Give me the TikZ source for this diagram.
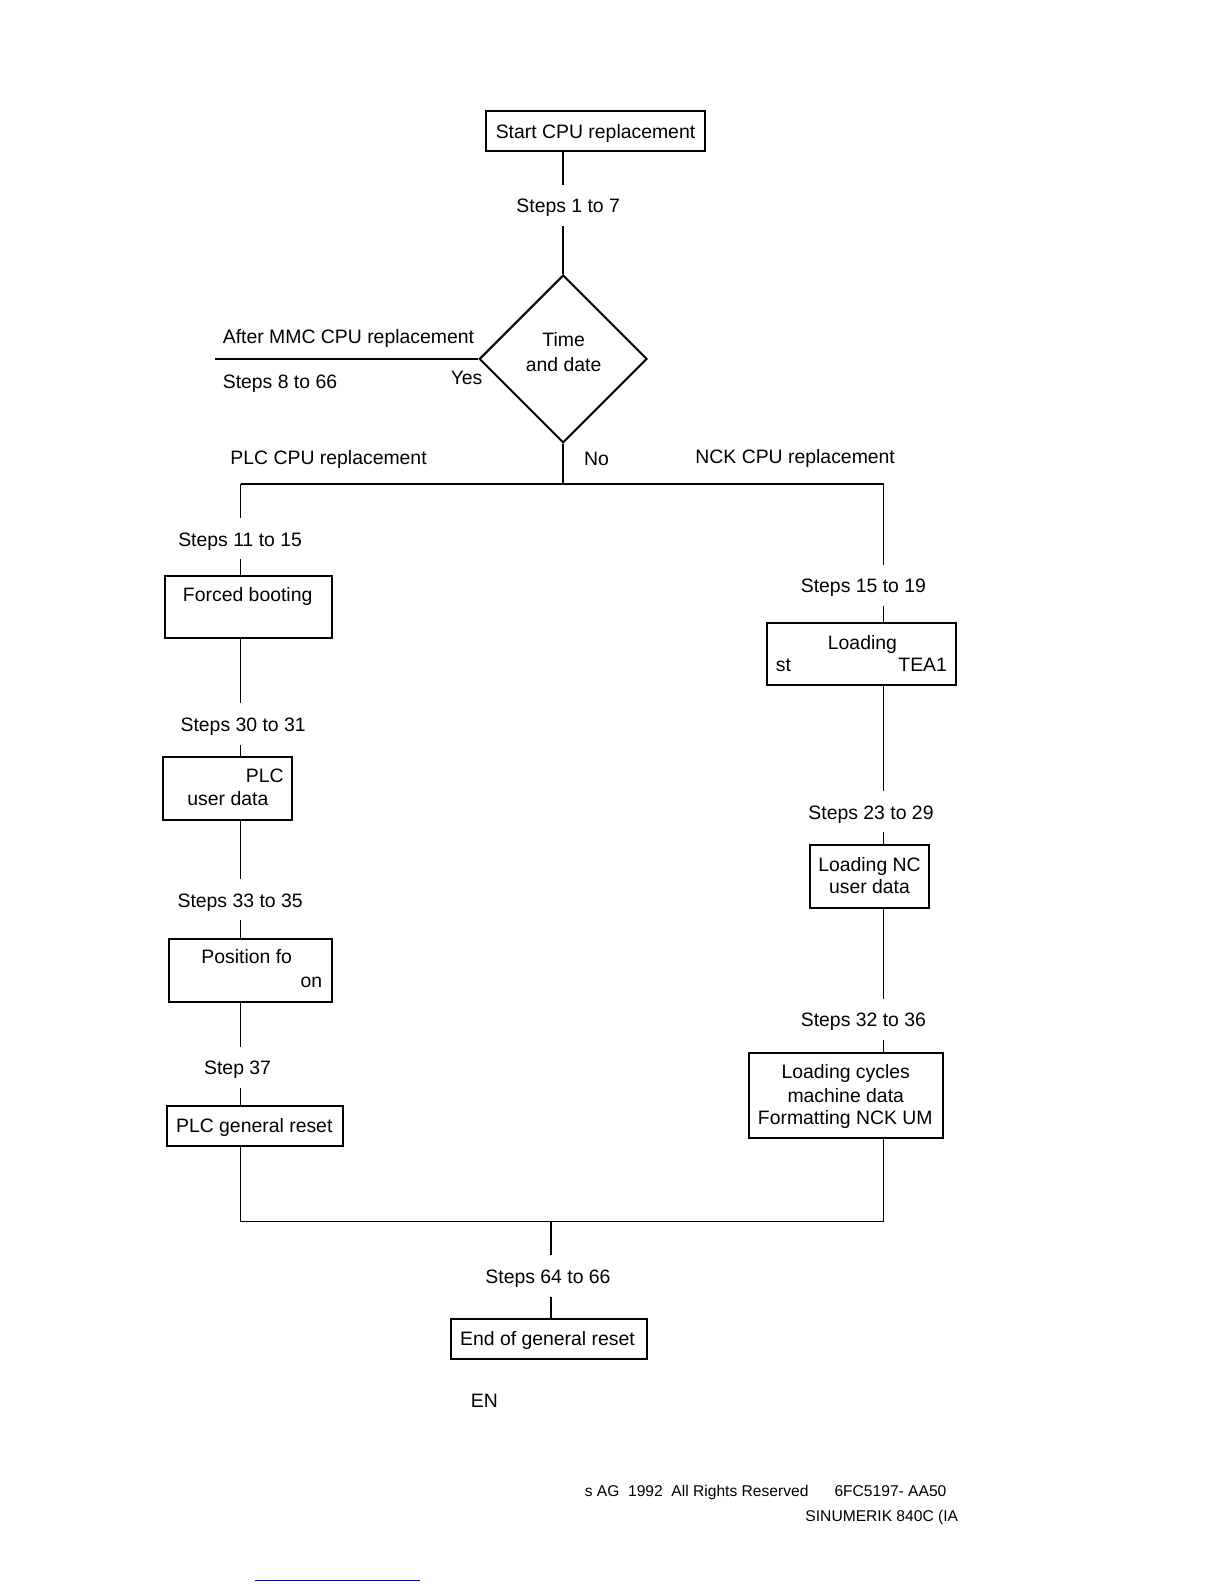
\documentclass[tikz,border=0pt]{standalone}
\usepackage{fontspec}
\setmainfont{Liberation Sans}
\usetikzlibrary{shapes.geometric,fit}
\definecolor{linkblue}{RGB}{10,10,150}
\begin{document}
\begin{tikzpicture}[x=0.5055pt,y=-0.5055pt,
  txt/.style={inner sep=0pt, text height=0.72em, text depth=0pt, font=\fontsize{9.7}{11.6}\selectfont},
  gaplbl/.style={txt, minimum height=20.2pt},
  foot/.style={inner sep=0pt, text height=0.72em, text depth=0pt, font=\fontsize{7.8}{9.4}\selectfont},
  box/.style={draw, line width=1pt, inner sep=0pt},
  conn/.style={line width=0.8pt}]
\useasboundingbox (0,0) rectangle (1210.7,1566.7);

% ---- top ----
\node[box, fit={(481,110) (697,149)}] (start) {};
\node[txt] (starttxt) at (589,129.5) {Start CPU replacement};
\node[gaplbl] (s1) at (562,203) {Steps 1 to 7};
\node[draw, diamond, line width=1pt, minimum width=83.9pt, minimum height=83.9pt, inner sep=0pt] (dia) at (557,355) {};
\node[txt] (time) at (557.5,336) {Time};
\node[txt] (date) at (557.5,360) {and date};
\draw[conn] (start.south -| dia.north) -- (s1.north -| dia.north);
\draw[conn] (s1.south -| dia.north) -- (dia.north);

% ---- Yes branch ----
\coordinate (yesend) at (213,355);
\draw[conn] (dia.west) -- (yesend);
\node[txt, anchor=west] (mmc) at (220,333) {After MMC CPU replacement};
\node[txt, anchor=west] (s8) at (220,377) {Steps 8 to 66};
\node[txt] (yes) at (461.5,373) {Yes};

% ---- No branch ----
\coordinate (split) at (557,479);
\coordinate (hl) at (238,479);
\coordinate (hr) at (874,479);
\draw[conn] (dia.south) -- (split);
\draw[conn] (hl) -- (hr);
\node[txt] (no) at (590,453) {No};
\node[txt] (plccpu) at (325,452) {PLC CPU replacement};
\node[txt] (nckcpu) at (786.5,451) {NCK CPU replacement};

% ---- left column ----
\node[gaplbl] (s11) at (237.5,533) {Steps 11 to 15};
\node[box, fit={(163,570) (328,631)}] (forced) {};
\node[txt] (forcedtxt) at (245,588) {Forced booting};
\node[gaplbl] (s30) at (240.5,716) {Steps 30 to 31};
\node[box, fit={(161,749) (289,811)}] (plcud) {};
\node[txt, anchor=east] (plctxt) at (281,767) {PLC};
\node[txt, anchor=west] (udtxt) at (185,790) {user data};
\node[gaplbl] (s33) at (237.5,890) {Steps 33 to 35};
\node[box, fit={(167,929) (328,991)}] (pos) {};
\node[txt] (postxt) at (244,946) {Position fo};
\node[txt, anchor=east] (ontxt) at (319,970) {on};
\node[gaplbl] (s37) at (235,1056) {Step 37};
\node[box, fit={(165,1094) (339,1133)}] (plcreset) {};
\node[txt] (plcresettxt) at (251.5,1113) {PLC general reset};

\draw[conn] (hl) -- (s11.north -| hl);
\draw[conn] (s11.south -| hl) -- (forced.north -| hl);
\draw[conn] (forced.south -| hl) -- (s30.north -| hl);
\draw[conn] (s30.south -| hl) -- (plcud.north -| hl);
\draw[conn] (plcud.south -| hl) -- (s33.north -| hl);
\draw[conn] (s33.south -| hl) -- (pos.north -| hl);
\draw[conn] (pos.south -| hl) -- (s37.north -| hl);
\draw[conn] (s37.south -| hl) -- (plcreset.north -| hl);

% ---- right column ----
\node[gaplbl] (s15) at (854,579) {Steps 15 to 19};
\node[box, fit={(759,616) (946,678)}] (load) {};
\node[txt] (loadtxt) at (853,635) {Loading};
\node[txt, anchor=west] (sttxt) at (767,657) {st};
\node[txt, anchor=east] (teatxt) at (937,657) {TEA1};
\node[gaplbl] (s23) at (861.5,803) {Steps 23 to 29};
\node[box, fit={(801,836) (919,898)}] (loadnc) {};
\node[txt] (loadnctxt) at (860,855) {Loading NC};
\node[txt] (loadnctxtb) at (860,877) {user data};
\node[gaplbl] (s32) at (854,1008) {Steps 32 to 36};
\node[box, fit={(741,1041) (933,1126)}] (cycles) {};
\node[txt] (cyca) at (836.5,1060) {Loading cycles};
\node[txt] (cycb) at (836.5,1083) {machine data};
\node[txt] (cycc) at (836,1105) {Formatting NCK UM};

\draw[conn] (hr) -- (s15.north -| hr);
\draw[conn] (s15.south -| hr) -- (load.north -| hr);
\draw[conn] (load.south -| hr) -- (s23.north -| hr);
\draw[conn] (s23.south -| hr) -- (loadnc.north -| hr);
\draw[conn] (loadnc.south -| hr) -- (s32.north -| hr);
\draw[conn] (s32.south -| hr) -- (cycles.north -| hr);

% ---- join ----
\coordinate (bl) at (238,1208);
\coordinate (br) at (874,1208);
\coordinate (bm) at (545,1208);
\draw[conn] (plcreset.south -| bl) -- (bl) -- (br) -- (cycles.south -| br);
\node[gaplbl] (s64) at (542,1262) {Steps 64 to 66};
\node[box, fit={(446,1305) (640,1344)}] (eor) {};
\node[txt] (eortxt) at (541.5,1324) {End of general reset};
\draw[conn] (bm) -- (s64.north -| bm);
\draw[conn] (s64.south -| bm) -- (eor.north -| bm);

\node[txt] (en) at (479,1385) {EN};

% ---- footer ----
\node[foot, anchor=west] (copy) at (578,1473) {s AG\ \ 1992\ \ All Rights Reserved};
\node[foot, anchor=west] (order) at (825,1473) {6FC5197- AA50};
\node[foot, anchor=east] (sinu) at (948,1498) {SINUMERIK 840C (IA};
\coordinate (blA) at (252,1563);
\coordinate (blB) at (415,1563);
\draw[linkblue, line width=0.7pt] (blA) -- (blB);
\end{tikzpicture}
\end{document}
